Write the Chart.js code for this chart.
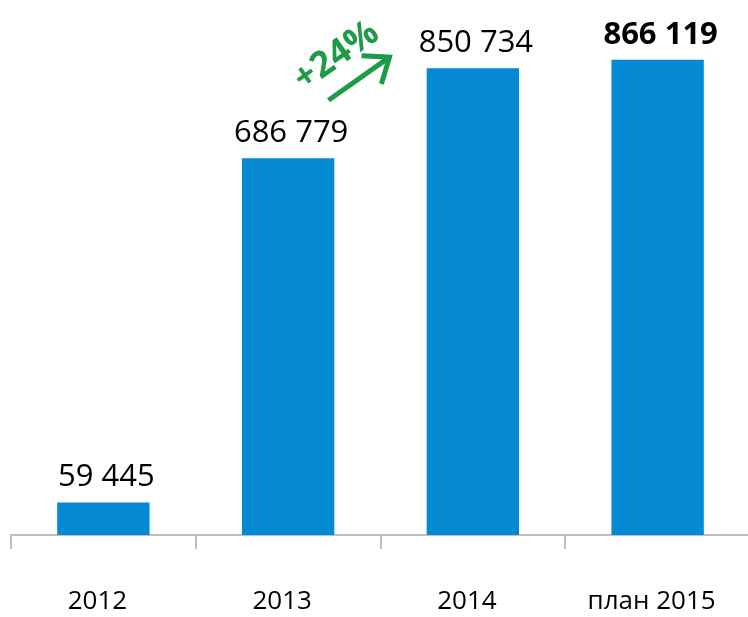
<!DOCTYPE html>
<html>
<head>
<meta charset="utf-8">
<script src="https://cdn.jsdelivr.net/npm/chart.js@4"></script>
<style>
    html, body { margin: 0; padding: 0; background: #fff; overflow: hidden; }
    #wrap { position: relative; width: 750px; height: 617px; }
</style>
</head>
<body>
<div id="wrap"><canvas id="barChart"></canvas></div>
<script>
const categories = ['2012', '2013', '2014', 'план 2015'];
const values = [59445, 686779, 850734, 866119];
const valueLabels = ['59 445', '686 779', '850 734', '866 119'];
const growthLabel = '+24%';

const barColor = '#0589d3';
const axisColor = '#bfbfbf';
const green = '#1f9a48';

// value labels above each bar, last one bold
const barLabels = {
    id: 'barLabels',
    afterDatasetsDraw(chart) {
        const { ctx } = chart;
        const meta = chart.getDatasetMeta(0);
        ctx.save();
        ctx.fillStyle = '#000';
        ctx.textAlign = 'center';
        ctx.textBaseline = 'alphabetic';
        meta.data.forEach((bar, i) => {
            const bold = i === meta.data.length - 1;
            ctx.font = (bold ? 'bold ' : '') + '31px "Open Sans"';
            ctx.fillText(valueLabels[i], bar.x + 3, bar.y - 16);
        });
        ctx.restore();
    },
};

// green "+24%" with arrow between 2013 and 2014
const growthNote = {
    id: 'growthNote',
    afterDatasetsDraw(chart) {
        const { ctx } = chart;
        const x = chart.scales.x;
        const y = chart.scales.y;
        const midX = (x.getPixelForValue(1) + x.getPixelForValue(2)) / 2;
        const topY = y.getPixelForValue(values[2]);

        ctx.save();
        ctx.fillStyle = green;
        ctx.strokeStyle = green;

        // text
        ctx.save();
        ctx.translate(midX - 44, topY - 12);
        ctx.rotate(-35 * Math.PI / 180);
        ctx.font = 'bold 36px "Open Sans"';
        ctx.textAlign = 'center';
        ctx.textBaseline = 'middle';
        ctx.fillText(growthLabel, 0, 0);
        ctx.restore();

        // arrow: shaft + open chevron head
        const tipX = midX + 9, tipY = topY - 11;
        const tailX = midX - 52, tailY = topY + 32;
        const back = Math.atan2(tailY - tipY, tailX - tipX);
        const spread = 38 * Math.PI / 180;
        const head = 28;
        ctx.lineWidth = 5;
        ctx.lineCap = 'butt';
        ctx.lineJoin = 'miter';
        ctx.beginPath();
        ctx.moveTo(tailX, tailY);
        ctx.lineTo(tipX - 3 * Math.cos(back + Math.PI), tipY - 3 * Math.sin(back + Math.PI));
        ctx.stroke();
        ctx.beginPath();
        ctx.moveTo(tipX + head * Math.cos(back - spread), tipY + head * Math.sin(back - spread));
        ctx.lineTo(tipX, tipY);
        ctx.lineTo(tipX + head * Math.cos(back + spread), tipY + head * Math.sin(back + spread));
        ctx.stroke();
        ctx.restore();
    },
};

const ctx = document.getElementById('barChart').getContext('2d');
const barChart = new Chart(ctx, {
    type: 'bar',
    data: {
        labels: categories,
        datasets: [
            {
                data: values,
                backgroundColor: barColor,
                borderWidth: 0,
                categoryPercentage: 1,
                barPercentage: 0.5,
            },
        ],
    },
    options: {
        responsive: true,
        maintainAspectRatio: false,
        animation: false,
        layout: { padding: { left: 11, right: 0, top: 0, bottom: 0 } },
        plugins: {
            legend: { display: false },
            tooltip: { enabled: false },
        },
        scales: {
            x: {
                grid: {
                    offset: true,
                    drawOnChartArea: false,
                    drawTicks: true,
                    tickLength: 14,
                    color: axisColor,
                    lineWidth: 2,
                },
                border: { display: true, color: axisColor, width: 2 },
                ticks: {
                    color: '#000',
                    // small padding keeps the chart area full width; tall line box pushes labels down
                    font: { family: 'Open Sans', size: 26, lineHeight: '95px' },
                    padding: 5,
                    labelOffset: -6,
                    maxRotation: 0,
                },
                afterFit(scale) {
                    scale.height = 82;
                },
            },
            y: {
                display: false,
                min: 0,
                max: 975000,
            },
        },
    },
    plugins: [barLabels, growthNote],
});
</script>
</body>
</html>
